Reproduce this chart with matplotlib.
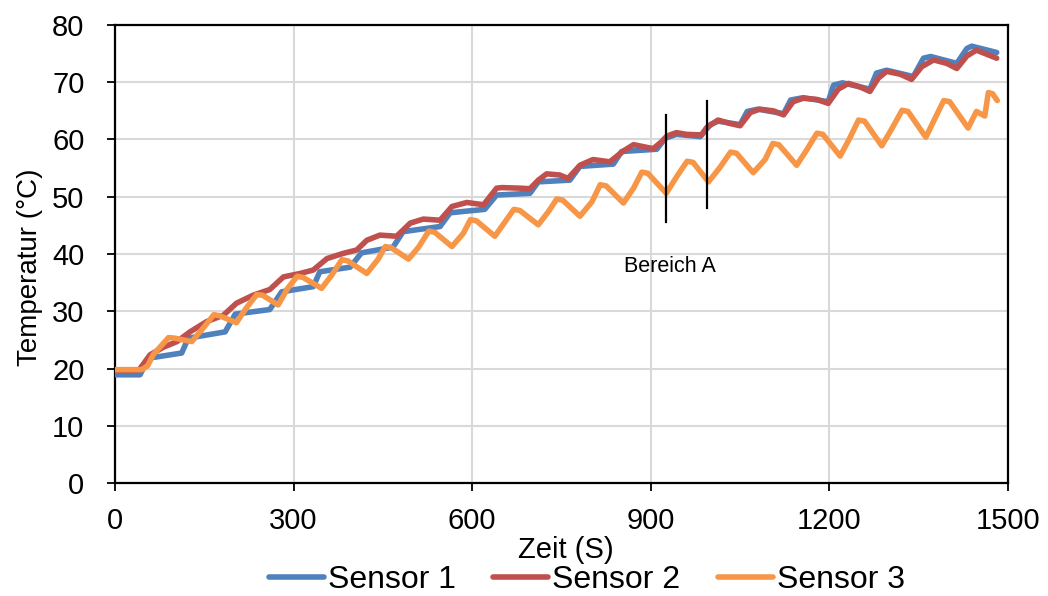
import matplotlib
matplotlib.use("Agg")
import matplotlib.pyplot as plt

plt.rcParams['font.family'] = ['Liberation Sans', 'DejaVu Sans']

# ---- data ----
t1 = [0, 42, 56, 112, 123, 185, 202, 260, 280, 333, 344, 395, 414, 467, 484, 546, 563,
      621, 641, 697, 711, 764, 781, 837, 851, 910, 924, 943, 983, 1000, 1013, 1050,
      1062, 1080, 1123, 1135, 1156, 1198, 1207, 1222, 1268, 1279, 1296, 1341, 1358,
      1370, 1414, 1431, 1439, 1481]
s1 = [18.9, 18.9, 21.8, 22.7, 25.3, 26.4, 29.5, 30.3, 33.4, 34.3, 36.9, 37.7, 40.2,
      41.2, 43.9, 44.8, 47.2, 47.8, 50.3, 50.6, 52.6, 52.9, 55.3, 55.7, 57.9, 58.3,
      60.2, 60.9, 60.5, 62.6, 63.2, 62.6, 64.9, 65.3, 64.5, 66.9, 67.3, 66.6, 69.5,
      69.9, 68.8, 71.6, 72.1, 71.0, 74.2, 74.5, 73.3, 75.9, 76.3, 75.2]

t2 = [0, 40, 59, 81, 104, 126, 154, 182, 204, 232, 260, 283, 311, 333, 356, 383, 406,
      423, 445, 473, 496, 518, 546, 566, 591, 619, 641, 650, 680, 697, 711, 725, 747,
      761, 781, 803, 831, 854, 871, 904, 918, 927, 943, 960, 985, 994, 1013, 1033,
      1050, 1067, 1083, 1106, 1123, 1139, 1156, 1179, 1198, 1215, 1232, 1251, 1268,
      1282, 1296, 1319, 1338, 1355, 1375, 1397, 1414, 1431, 1447, 1464, 1481]
s2 = [19.7, 19.7, 22.4, 23.7, 24.7, 26.4, 28.2, 29.3, 31.4, 32.8, 33.8, 36.0, 36.6,
      37.2, 39.2, 40.1, 40.7, 42.4, 43.3, 43.1, 45.4, 46.1, 45.9, 48.3, 49.0, 48.6,
      51.5, 51.6, 51.5, 51.4, 52.9, 54.0, 53.8, 53.2, 55.5, 56.5, 56.1, 58.0, 59.1,
      58.4, 59.6, 60.6, 61.2, 60.9, 60.8, 62.1, 63.4, 62.8, 62.4, 64.7, 65.3, 65.0,
      64.3, 66.6, 67.2, 67.0, 66.3, 68.8, 69.8, 69.2, 68.4, 70.7, 71.9, 71.4, 70.5,
      72.7, 73.9, 73.3, 72.4, 74.6, 75.6, 74.9, 74.2]

t3 = [0, 45, 55, 64, 90, 100, 129, 150, 166, 176, 204, 220, 238, 248, 274, 290, 306,
      316, 347, 364, 381, 391, 423, 442, 454, 464, 493, 510, 527, 537, 566, 585, 597,
      607, 638, 655, 670, 680, 711, 728, 742, 752, 781, 801, 815, 825, 854, 871, 885,
      895, 926, 944, 961, 971, 997, 1016, 1034, 1044, 1072, 1092, 1105, 1115, 1145,
      1162, 1179, 1189, 1218, 1234, 1249, 1259, 1288, 1305, 1322, 1332, 1362, 1376,
      1392, 1402, 1433, 1447, 1461, 1467, 1474, 1482]
s3 = [19.8, 19.8, 20.5, 22.4, 25.4, 25.3, 24.7, 27.3, 29.4, 29.2, 28.0, 30.5, 32.9,
      32.8, 31.1, 34.0, 36.1, 35.9, 34.0, 36.3, 39.0, 38.8, 36.6, 39.1, 41.3, 41.1,
      39.1, 41.2, 44.0, 43.8, 41.3, 43.6, 46.0, 45.8, 43.1, 45.6, 47.8, 47.6, 45.1,
      47.4, 49.6, 49.4, 46.6, 49.1, 52.1, 51.9, 48.9, 51.5, 54.3, 54.1, 50.6, 53.6,
      56.2, 56.0, 52.6, 55.1, 57.8, 57.6, 54.2, 56.5, 59.3, 59.1, 55.5, 58.2, 61.1,
      60.9, 57.1, 60.2, 63.4, 63.2, 58.9, 61.9, 65.1, 64.9, 60.4, 63.4, 66.8, 66.6,
      62.0, 64.9, 64.1, 68.2, 68.0, 66.8]

labels = ["Sensor 1", "Sensor 2", "Sensor 3"]
colors = ["#4F81BD", "#C0504D", "#F79646"]

# Bereich A markers
marker_x = [926, 994]
marker_y0 = [45.6, 48.0]
marker_y1 = [64.3, 66.7]
region_label = "Bereich A"
region_pos = (932, 37.9)

xticks = [0, 300, 600, 900, 1200, 1500]
yticks = [0, 10, 20, 30, 40, 50, 60, 70, 80]

# ---- figure ----
fig = plt.figure(figsize=(10.48, 5.96), dpi=100)
ax = fig.add_axes([115/1048, 1-483/596, (1008-115)/1048, (483-25)/596])

for t, s, lab, c in zip([t1, t2, t3], [s1, s2, s3], labels, colors):
    ax.plot(t, s, color=c, lw=4.0, label=lab, solid_joinstyle='round',
            solid_capstyle='round', zorder=3)

for x, y0, y1 in zip(marker_x, marker_y0, marker_y1):
    ax.plot([x, x], [y0, y1], color='black', lw=1.6, zorder=4)
ax.text(region_pos[0], region_pos[1], region_label, ha='center', va='center',
        fontsize=15.5, color='black')

ax.set_xlim(0, 1500)
ax.set_ylim(0, 80)
ax.set_xticks(xticks)
ax.set_yticks(yticks)
ax.grid(True, color='#d9d9d9', lw=1.5, zorder=0)
ax.set_axisbelow(True)
for sp in ax.spines.values():
    sp.set_color('black')
    sp.set_linewidth(1.6)
ax.tick_params(axis='both', direction='out', length=6, width=1.3, labelsize=21,
               colors='black')
ax.tick_params(axis='x', pad=11)
ax.tick_params(axis='y', pad=16)

ax.set_xlabel("Zeit (S)", fontsize=21)
ax.xaxis.set_label_coords(0.505, -0.116)
ax.set_ylabel("Temperatur (°C)", fontsize=20)
ax.yaxis.set_label_coords(-0.095, 0.472)
ax.yaxis.label.set_va('center')

fig.legend(*ax.get_legend_handles_labels(), loc='center', ncol=3,
           bbox_to_anchor=(587/1048, 1-580/596), frameon=False, fontsize=23,
           handlelength=1.72, handletextpad=0.13, columnspacing=1.16,
           borderpad=0.1)

fig.savefig("out.png", dpi=100)
